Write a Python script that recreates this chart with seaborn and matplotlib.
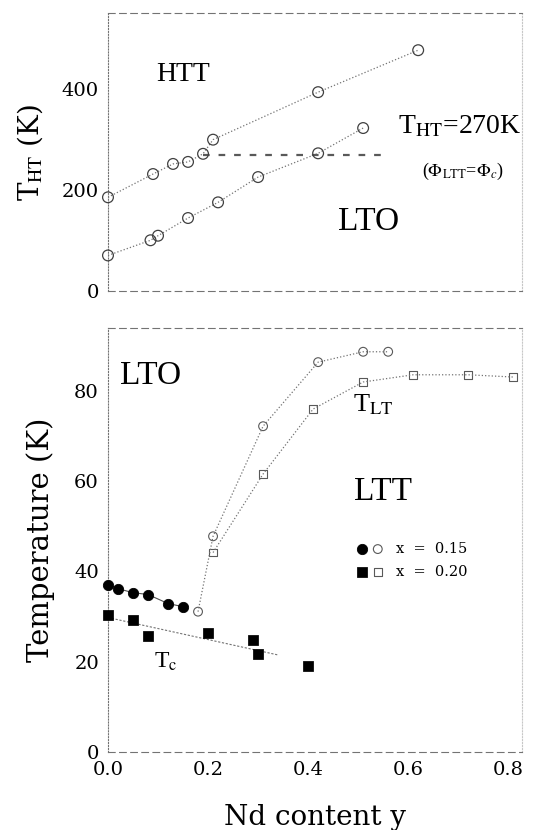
import pandas as pd
import seaborn as sns
import matplotlib.pyplot as plt
from matplotlib.legend_handler import HandlerTuple

# --- Data ---
# upper panel: HTT -> LTO transition temperature T_HT
tht_hi_y = [0.0, 0.09, 0.13, 0.16, 0.19, 0.21, 0.42, 0.62]
tht_hi_T = [186, 232, 252, 256, 272, 300, 394, 477]
tht_lo_y = [0.0, 0.085, 0.10, 0.16, 0.22, 0.30, 0.42, 0.51]
tht_lo_T = [71, 101, 110, 145, 176, 226, 273, 323]
tht_const_y = [0.19, 0.56]
tht_const_T = [270, 270]

# lower panel: Tc (filled) and LTO -> LTT transition T_LT (open)
tc15_y = [0.0, 0.02, 0.05, 0.08, 0.12, 0.15]
tc15_T = [37.1, 36.2, 35.3, 34.9, 32.9, 32.2]
tc20_y = [0.0, 0.05, 0.08, 0.20, 0.29, 0.30, 0.40]
tc20_T = [30.4, 29.3, 25.6, 26.4, 24.9, 21.8, 19.1]
tc20_guide_y = [0.0, 0.34]
tc20_guide_T = [29.8, 21.5]
tlt15_y = [0.18, 0.21, 0.31, 0.42, 0.51, 0.56]
tlt15_T = [31.1, 47.8, 72.2, 86.4, 88.7, 88.7]
tlt20_y = [0.21, 0.31, 0.41, 0.51, 0.61, 0.72, 0.81]
tlt20_T = [44.2, 61.6, 76.0, 82.0, 83.6, 83.6, 83.1]

x_ticks = [0.0, 0.2, 0.4, 0.6, 0.8]
top_yticks = [0, 200, 400]
bot_yticks = [0, 20, 40, 60, 80]

# --- Style ---
sns.set_style("white")
plt.rcParams['font.family'] = ['Liberation Serif', 'DejaVu Serif']
plt.rcParams['mathtext.fontset'] = 'stix'
plt.rcParams['text.color'] = 'black'
plt.rcParams['axes.labelcolor'] = 'black'
wide = ['DejaVu Serif']

fig = plt.figure(figsize=(5.44, 8.30), dpi=100)
ax1 = fig.add_axes([0.1985, 0.649, 0.7615, 0.335])
ax2 = fig.add_axes([0.1985, 0.094, 0.7615, 0.511])

dot_kw = dict(color='0.45', linewidth=0.9, linestyle=':', estimator=None, sort=False)

# --- upper panel ---
sns.lineplot(x=tht_hi_y, y=tht_hi_T, ax=ax1, **dot_kw)
sns.lineplot(x=tht_lo_y, y=tht_lo_T, ax=ax1, **dot_kw)
sns.lineplot(x=tht_const_y, y=tht_const_T, ax=ax1, color='0.35', linewidth=1.6,
             linestyle=(0, (3, 4)), estimator=None)
sns.scatterplot(x=tht_hi_y, y=tht_hi_T, ax=ax1, marker='o', s=60, clip_on=False,
                facecolor='none', edgecolor='0.25', linewidth=0.9, zorder=3)
sns.scatterplot(x=tht_lo_y, y=tht_lo_T, ax=ax1, marker='o', s=60, clip_on=False,
                facecolor='none', edgecolor='0.25', linewidth=0.9, zorder=3)

ax1.text(0.15, 428, 'HTT', fontsize=20, ha='center', va='center')
ax1.text(0.52, 137, 'LTO', fontsize=24, ha='center', va='center')
ax1.text(0.58, 325, r'T$_{\mathrm{HT}}$=270K', fontsize=20, ha='left', va='center')
ax1.text(0.71, 238, r'($\Phi_{\mathrm{LTT}}$=$\Phi_{c}$)', fontsize=13, ha='center', va='center')

ax1.set_xlim(0, 0.828)
ax1.set_ylim(0, 550)
ax1.set_xticks(x_ticks)
ax1.set_xticklabels([])
ax1.set_yticks(top_yticks)
ax1.set_ylabel(r'T$_{\mathrm{HT}}$ (K)', fontsize=20, family=wide, labelpad=12)

# --- lower panel ---
sns.lineplot(x=tc15_y, y=tc15_T, ax=ax2, color='0.3', linewidth=0.8, estimator=None)
sns.lineplot(x=tc20_guide_y, y=tc20_guide_T, ax=ax2, color='0.45', linewidth=0.8,
             linestyle=(0, (2, 1.5)), estimator=None)
sns.lineplot(x=tlt15_y, y=tlt15_T, ax=ax2, **dot_kw)
sns.lineplot(x=tlt20_y, y=tlt20_T, ax=ax2, **dot_kw)

h15f = sns.scatterplot(x=tc15_y, y=tc15_T, ax=ax2, marker='o', s=55, clip_on=False,
                       color='black', edgecolor='black', zorder=3).collections[-1]
h20f = sns.scatterplot(x=tc20_y, y=tc20_T, ax=ax2, marker='s', s=45, clip_on=False,
                       color='black', edgecolor='black', zorder=3).collections[-1]
h15o = sns.scatterplot(x=tlt15_y, y=tlt15_T, ax=ax2, marker='o', s=40,
                       facecolor='none', edgecolor='0.35', linewidth=0.8).collections[-1]
h20o = sns.scatterplot(x=tlt20_y, y=tlt20_T, ax=ax2, marker='s', s=32,
                       facecolor='none', edgecolor='0.35', linewidth=0.8).collections[-1]

ax2.text(0.085, 83.3, 'LTO', fontsize=24, ha='center', va='center')
ax2.text(0.53, 77, r'T$_{\mathrm{LT}}$', fontsize=19, ha='center', va='center')
ax2.text(0.55, 57.6, 'LTT', fontsize=24, ha='center', va='center')
ax2.text(0.115, 20, r'T$_{\mathrm{c}}$', fontsize=17, ha='center', va='center')

leg = ax2.legend([(h15f, h15o), (h20f, h20o)], ['x  =  0.15', 'x  =  0.20'],
                 handler_map={tuple: HandlerTuple(ndivide=None, pad=0.2)},
                 frameon=False, loc='center left', prop={'family': wide, 'size': 10.5},
                 bbox_to_anchor=(0.565, 0.452), handlelength=2.0,
                 handletextpad=0.8, labelspacing=0.6)

ax2.set_xlim(0, 0.828)
ax2.set_ylim(0, 94)
ax2.set_xticks(x_ticks)
ax2.set_xticklabels(['0.0', '0.2', '0.4', '0.6', '0.8'])
ax2.set_yticks(bot_yticks)
ax2.set_xlabel('Nd content y', fontsize=20, family=wide, labelpad=18)
ax2.set_ylabel('Temperature (K)', fontsize=21, family=wide, labelpad=14)

for ax in (ax1, ax2):
    ax.tick_params(axis='both', labelsize=14, direction='inout', length=5,
                   width=0.7, color='0.4', labelcolor='black', pad=4)
    for lab in ax.get_xticklabels() + ax.get_yticklabels():
        lab.set_family(wide)
    for side, sp in ax.spines.items():
        sp.set_color('0.45')
        sp.set_linewidth(0.8)
        sp.set_linestyle(':' if side in ('left', 'right') else (0, (6, 4)))
    ax.spines['right'].set_alpha(0.4)

fig.savefig('out.png', dpi=100)
